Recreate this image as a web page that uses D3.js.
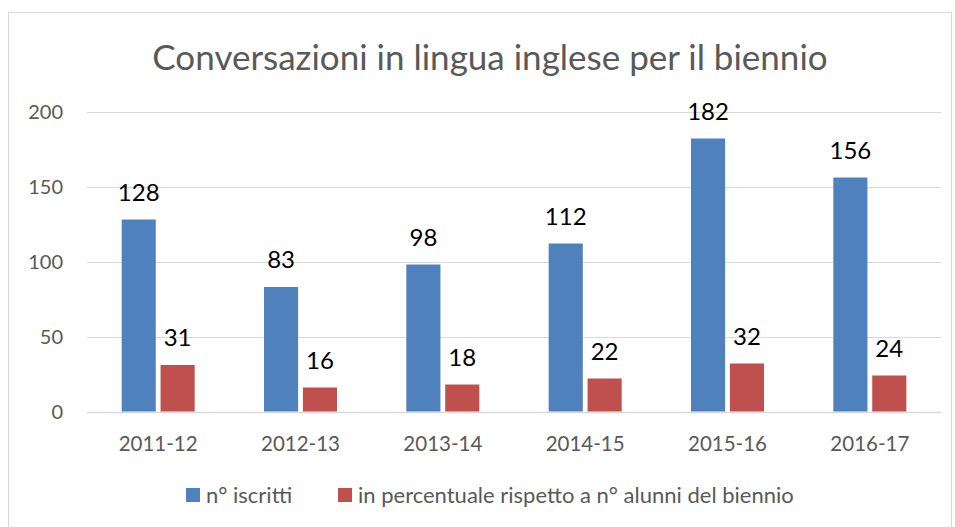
<!DOCTYPE html>
<html>
<head>
<meta charset="utf-8">
<script src="https://cdn.jsdelivr.net/npm/d3@7"></script>
<style>
  html, body { margin: 0; padding: 0; background: #fff; }
  svg { display: block; font-family: "Lato", "Open Sans", sans-serif; }
</style>
</head>
<body>
<svg id="chart" width="955" height="527"></svg>
<script>
// Anni scolastici e valori delle due serie
const categories = ["2011-12", "2012-13", "2013-14", "2014-15", "2015-16", "2016-17"];
const iscritti = [128, 83, 98, 112, 182, 156];
const percentuale = [31, 16, 18, 22, 32, 24];
const seriesNames = ["n° iscritti", "in percentuale rispetto a n° alunni del biennio"];
const yTicks = [0, 50, 100, 150, 200];
const titleText = "Conversazioni in lingua inglese per il biennio";

const colors = ["#4F81BD", "#C0504D"];
const svg = d3.select("#chart");
const W = 955, H = 527;

// chart frame
svg.append("rect")
  .attr("x", 8.5).attr("y", 12.5)
  .attr("width", W - 12).attr("height", H)
  .attr("fill", "#fff").attr("stroke", "#D9D9D9").attr("stroke-width", 1);

const plot = { left: 87, right: 941, top: 111.5, bottom: 411.5 };

const x = d3.scaleBand().domain(categories).range([plot.left, plot.right]).paddingInner(0).paddingOuter(0);
const y = d3.scaleLinear().domain([0, 200]).range([plot.bottom, plot.top]);

const barW = 32, gap = 9;
const sub = d3.scaleBand().domain([0, 1]).range([0, barW * 2 + gap]).paddingInner(gap / (barW * 2 + gap));

// title
svg.append("text")
  .attr("x", 490).attr("y", 70)
  .attr("text-anchor", "middle")
  .attr("font-size", 35).attr("fill", "#595959")
  .text(titleText);

// gridlines
svg.append("g").selectAll("line").data(yTicks).join("line")
  .attr("x1", plot.left).attr("x2", plot.right)
  .attr("y1", d => Math.round(y(d)) + 0.5).attr("y2", d => Math.round(y(d)) + 0.5)
  .attr("stroke", "#D9D9D9").attr("stroke-width", d => d === 0 ? 1.5 : 1);

// y axis labels
const yAxis = d3.axisLeft(y).tickValues(yTicks).tickSize(0).tickPadding(0);
const gy = svg.append("g").attr("transform", `translate(${plot.left - 24},0)`).call(yAxis);
gy.select(".domain").remove();
gy.selectAll("text").attr("font-size", 20).attr("fill", "#595959").attr("font-family", "Lato, sans-serif").attr("dy", "0.35em");

// x axis labels
const xAxis = d3.axisBottom(x).tickSize(0).tickPadding(0);
const gx = svg.append("g").attr("transform", `translate(0,${plot.bottom + 25})`).call(xAxis);
gx.select(".domain").remove();
gx.selectAll("text").attr("font-size", 20.5).attr("fill", "#595959").attr("font-family", "Lato, sans-serif").attr("dy", "0.71em");

// bars
const data = categories.map((c, i) => ({ c, v: [iscritti[i], percentuale[i]] }));
const groups = svg.append("g").selectAll("g").data(data).join("g")
  .attr("transform", d => `translate(${x(d.c) + x.bandwidth() / 2 - (barW * 2 + gap) / 2},0)`);

groups.selectAll("rect").data(d => d.v.map((v, s) => ({ v, s }))).join("rect")
  .attr("x", d => sub(d.s)).attr("width", sub.bandwidth())
  .attr("y", d => y(d.v)).attr("height", d => y(0) - y(d.v))
  .attr("fill", d => colors[d.s]);

groups.selectAll("text").data(d => d.v.map((v, s) => ({ v, s }))).join("text")
  .attr("x", d => sub(d.s) + sub.bandwidth() / 2)
  .attr("y", d => y(d.v) - 19)
  .attr("text-anchor", "middle")
  .attr("font-size", 24).attr("fill", "#000")
  .text(d => d.v);

// legend
const legend = svg.append("g");
const legendItems = [{ x: 186, name: seriesNames[0] }, { x: 338, name: seriesNames[1] }];
legendItems.forEach((it, i) => {
  legend.append("rect").attr("x", it.x).attr("y", 488).attr("width", 14).attr("height", 14).attr("fill", colors[i]);
  legend.append("text").attr("x", it.x + 20).attr("y", 503)
    .attr("font-size", 22).attr("fill", "#595959").text(it.name);
});
</script>
</body>
</html>
